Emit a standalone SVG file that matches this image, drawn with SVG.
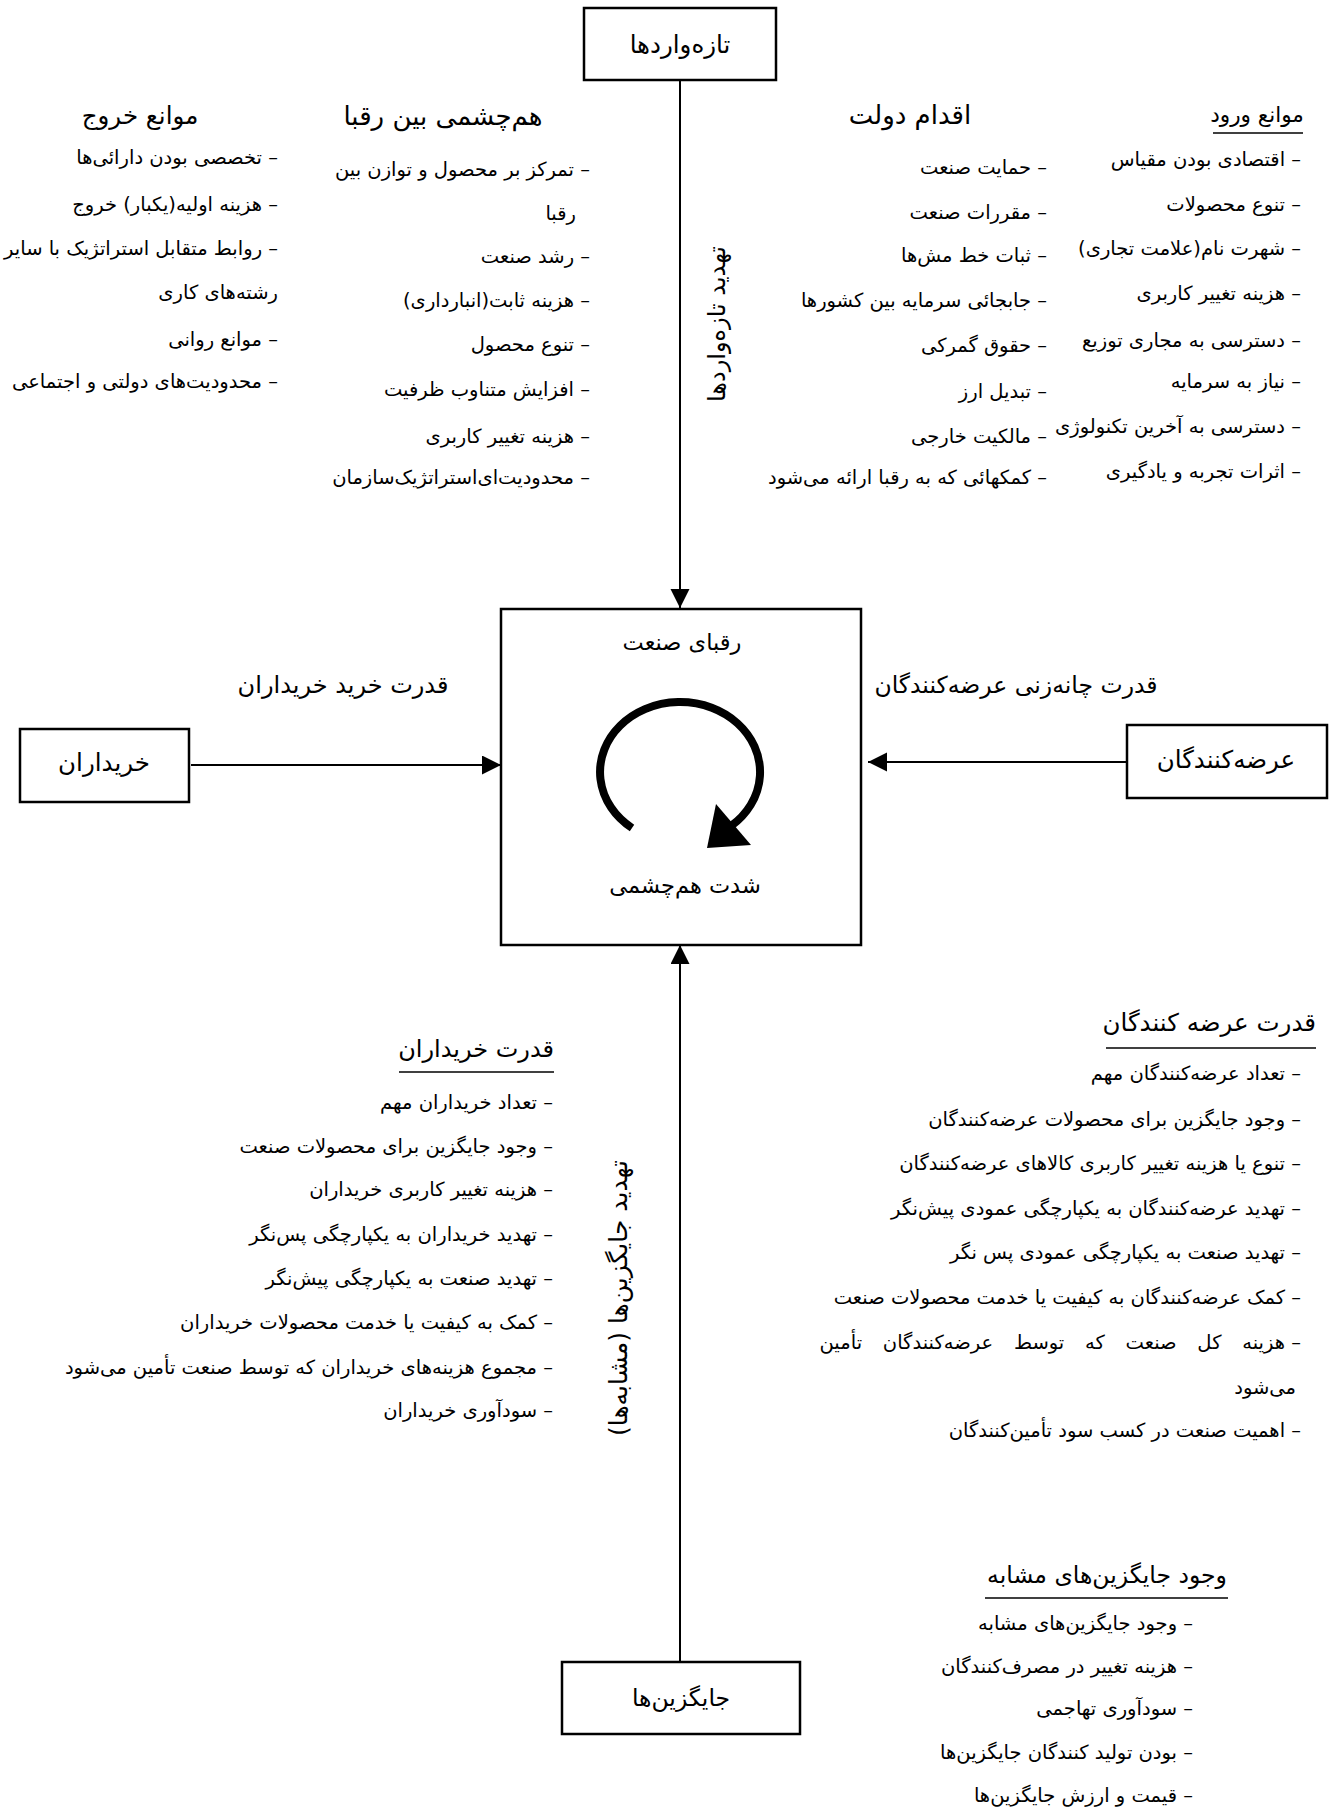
<svg xmlns="http://www.w3.org/2000/svg" width="1335" height="1814" viewBox="0 0 1335 1814">
<defs>
<style>
text { font-family: "DejaVu Sans", sans-serif; fill: #000; direction: rtl; }
.it { font-size: 19.5px; text-anchor: start; }
.hd { text-anchor: middle; }
.hdr { text-anchor: start; }
.lb { font-size: 23.5px; text-anchor: middle; }
.nd { font-size: 24.5px; text-anchor: middle; }
.box { fill: #fff; stroke: #000; stroke-width: 2.5; }
.ul { stroke: #000; stroke-width: 1.5; }
.conn { stroke: #000; stroke-width: 2; fill: none; }
</style>
<marker id="ah" markerUnits="userSpaceOnUse" markerWidth="20" markerHeight="20" refX="19" refY="9.5" orient="auto">
<path d="M0,0 L19,9.5 L0,19 Z" fill="#000"/>
</marker>
</defs>
<rect width="1335" height="1814" fill="#fff"/>

<g id="connectors">
<line class="conn" x1="680" y1="80" x2="680" y2="608" marker-end="url(#ah)"/>
<line class="conn" x1="680" y1="1661" x2="680" y2="945" marker-end="url(#ah)"/>
<line class="conn" x1="191" y1="765" x2="501" y2="765" marker-end="url(#ah)"/>
<line class="conn" x1="1127" y1="762" x2="868" y2="762" marker-end="url(#ah)"/>
<text class="lb" style="font-size:24px" transform="translate(725,324) rotate(-90)">تهدید تازه‌واردها</text>
<text class="lb" style="font-size:25px" transform="translate(627,1298) rotate(-90)">تهدید جایگزین‌ها (مشابه‌ها)</text>
<text class="lb" style="font-size:24px" x="343" y="693">قدرت خرید خریداران</text>
<text class="lb" x="1016" y="693">قدرت چانه‌زنی عرضه‌کنندگان</text>
</g>

<g id="node-newcomers">
<rect class="box" x="584" y="8" width="192" height="72"/>
<text class="nd" x="680" y="53">تازه‌واردها</text>
</g>

<g id="node-rivals">
<rect class="box" x="501" y="609" width="360" height="336"/>
<text class="lb" style="font-size:22.5px" x="682" y="650">رقبای صنعت</text>
<path d="M632,828 A80,70 0 1 1 731,826" fill="none" stroke="#000" stroke-width="8"/>
<polygon points="716,804 751,845 707,848" fill="#000"/>
<text class="lb" style="font-size:22.5px" x="685" y="893">شدت هم‌چشمی</text>
</g>

<g id="node-buyers">
<rect class="box" x="20" y="729" width="169" height="73"/>
<text class="nd" x="104" y="771">خریداران</text>
</g>

<g id="node-suppliers">
<rect class="box" x="1127" y="725" width="200" height="73"/>
<text class="nd" x="1226" y="768">عرضه‌کنندگان</text>
</g>

<g id="node-substitutes">
<rect class="box" x="562" y="1662" width="238" height="72"/>
<text class="nd" style="font-size:23.5px" x="681" y="1706">جایگزین‌ها</text>
</g>

<g id="exit-barriers">
<text class="hd" style="font-size:24.5px" x="140" y="124">موانع خروج</text>
<text class="it" x="278" y="164">– تخصصی بودن دارائی‌ها</text>
<text class="it" x="278" y="211">– هزینه اولیه(یکبار) خروج</text>
<text class="it" x="278" y="255">– روابط متقابل استراتژیک با سایر</text>
<text class="it" x="278" y="299">رشته‌های کاری</text>
<text class="it" x="278" y="346">– موانع روانی</text>
<text class="it" x="278" y="388">– محدودیت‌های دولتی و اجتماعی</text>
</g>

<g id="rivalry">
<text class="hd" style="font-size:26px" x="443" y="125">هم‌چشمی بین رقبا</text>
<text class="it" x="590" y="176">– تمرکز بر محصول و توازن بین</text>
<text class="it" x="576" y="220">رقبا</text>
<text class="it" x="590" y="263">– رشد صنعت</text>
<text class="it" x="590" y="307">– هزینه ثابت(انبارداری)</text>
<text class="it" x="590" y="351">– تنوع محصول</text>
<text class="it" x="590" y="396">– افزایش متناوب ظرفیت</text>
<text class="it" x="590" y="443">– هزینه تغییر کاربری</text>
<text class="it" x="590" y="484">– محدودیت‌ای‌استراتژیک‌سازمان</text>
</g>

<g id="government">
<text class="hd" style="font-size:26px" x="910" y="124">اقدام دولت</text>
<text class="it" x="1047" y="174">– حمایت صنعت</text>
<text class="it" x="1047" y="219">– مقررات صنعت</text>
<text class="it" x="1047" y="262">– ثبات خط مش‌ها</text>
<text class="it" x="1047" y="307">– جابجائی سرمایه بین کشورها</text>
<text class="it" x="1047" y="352">– حقوق گمرکی</text>
<text class="it" x="1047" y="398">– تبدیل ارز</text>
<text class="it" x="1047" y="443">– مالکیت خارجی</text>
<text class="it" x="1047" y="484">– کمکهائی که به رقبا ارائه می‌شود</text>
</g>

<g id="entry-barriers">
<text class="hd" style="font-size:21.5px" x="1257" y="122">موانع ورود</text>
<line class="ul" x1="1213" y1="133" x2="1303" y2="133"/>
<text class="it" x="1301" y="166">– اقتصادی بودن مقیاس</text>
<text class="it" x="1301" y="211">– تنوع محصولات</text>
<text class="it" x="1301" y="255">– شهرت نام(علامت تجاری)</text>
<text class="it" x="1301" y="300">– هزینه تغییر کاربری</text>
<text class="it" x="1301" y="347">– دسترسی به مجاری توزیع</text>
<text class="it" x="1301" y="388">– نیاز به سرمایه</text>
<text class="it" x="1301" y="433">– دسترسی به آخرین تکنولوژی</text>
<text class="it" x="1301" y="478">– اثرات تجربه و یادگیری</text>
</g>

<g id="buyer-power">
<text class="hdr" style="font-size:24px" x="554" y="1057">قدرت خریداران</text>
<line class="ul" x1="399" y1="1072" x2="554" y2="1072"/>
<text class="it" x="553" y="1109">– تعداد خریداران مهم</text>
<text class="it" x="553" y="1153">– وجود جایگزین برای محصولات صنعت</text>
<text class="it" x="553" y="1196">– هزینه تغییر کاربری خریداران</text>
<text class="it" x="553" y="1241">– تهدید خریداران به یکپارچگی پس‌نگر</text>
<text class="it" x="553" y="1285">– تهدید صنعت به یکپارچگی پیش‌نگر</text>
<text class="it" x="553" y="1329">– کمک به کیفیت یا خدمت محصولات خریداران</text>
<text class="it" x="553" y="1374">– مجموع هزینه‌های خریداران که توسط صنعت تأمین می‌شود</text>
<text class="it" x="553" y="1417">– سودآوری خریداران</text>
</g>

<g id="supplier-power">
<text class="hdr" style="font-size:24.5px" x="1316" y="1031">قدرت عرضه کنندگان</text>
<line class="ul" x1="1106" y1="1048" x2="1316" y2="1048"/>
<text class="it" x="1301" y="1080">– تعداد عرضه‌کنندگان مهم</text>
<text class="it" x="1301" y="1126">– وجود جایگزین برای محصولات عرضه‌کنندگان</text>
<text class="it" x="1301" y="1170">– تنوع یا هزینه تغییر کاربری کالاهای عرضه‌کنندگان</text>
<text class="it" x="1301" y="1215">– تهدید عرضه‌کنندگان به یکپارچگی عمودی پیش‌نگر</text>
<text class="it" x="1301" y="1259">– تهدید صنعت به یکپارچگی عمودی پس نگر</text>
<text class="it" x="1301" y="1304">– کمک عرضه‌کنندگان به کیفیت یا خدمت محصولات صنعت</text>
<text class="it" x="1301" y="1349">– <tspan style="word-spacing:14.6px">هزینه کل صنعت که توسط عرضه‌کنندگان تأمین</tspan></text>
<text class="it" x="1296" y="1394">می‌شود</text>
<text class="it" x="1301" y="1437">– اهمیت صنعت در کسب سود تأمین‌کنندگان</text>
</g>

<g id="substitutes-list">
<text class="hd" style="font-size:23.5px" x="1107" y="1583">وجود جایگزین‌های مشابه</text>
<line class="ul" x1="985" y1="1598" x2="1228" y2="1598"/>
<text class="it" x="1193" y="1630">– وجود جایگزین‌های مشابه</text>
<text class="it" x="1193" y="1673">– هزینه تغییر در مصرف‌کنندگان</text>
<text class="it" x="1193" y="1715">– سودآوری  تهاجمی</text>
<text class="it" x="1193" y="1759">– بودن تولید کنندگان جایگزین‌ها</text>
<text class="it" x="1193" y="1802">– قیمت و ارزش جایگزین‌ها</text>
</g>
</svg>
